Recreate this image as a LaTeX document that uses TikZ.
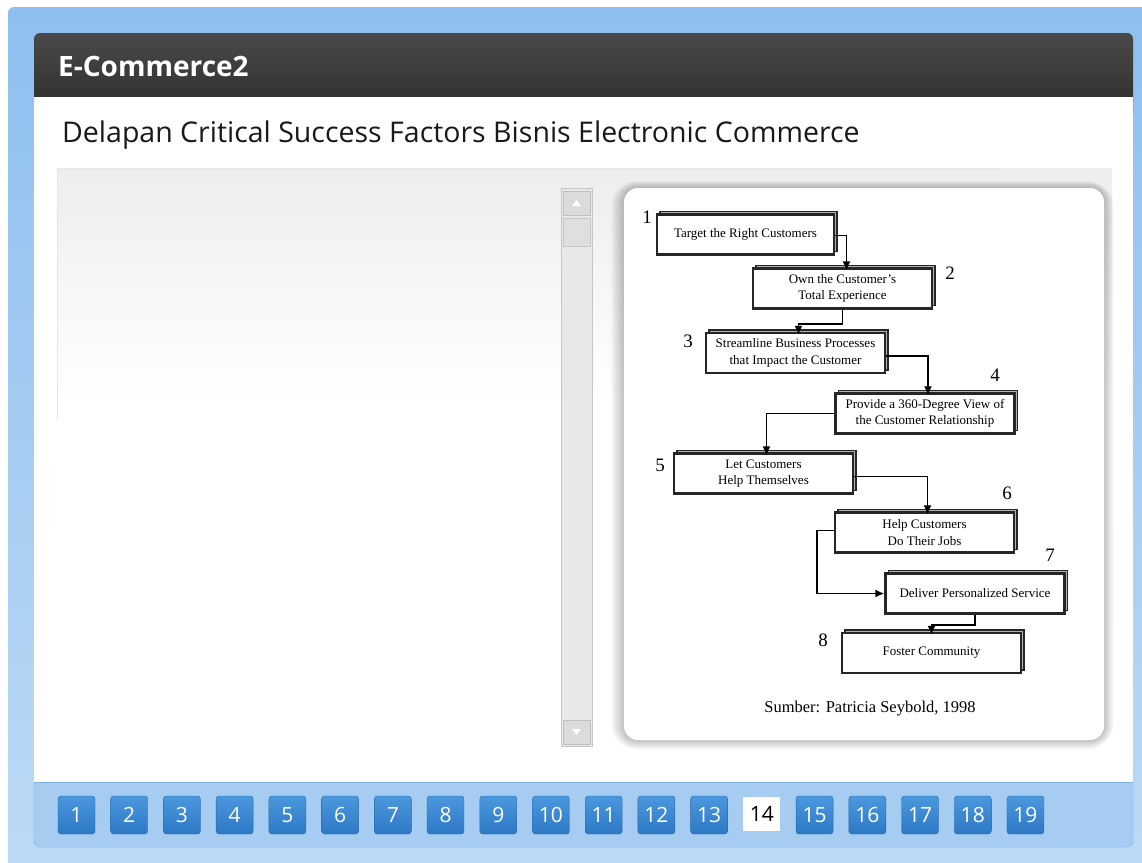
\documentclass[tikz,border=0pt]{standalone}
\usepackage{fontspec}
\setmainfont{Liberation Serif}
\newfontfamily\uifont{Open Sans}
\usetikzlibrary{shadows,arrows.meta}

\definecolor{pagetop}{HTML}{8EBFEF}
\definecolor{pagelow}{HTML}{BCDAF6}
\definecolor{headtop}{HTML}{4A4A4A}
\definecolor{headlow}{HTML}{2A2A2A}
\definecolor{navfill}{HTML}{A6CCF2}
\definecolor{navline}{HTML}{7FB0E2}
\definecolor{btntop}{HTML}{4C98DE}
\definecolor{btnlow}{HTML}{2D78C4}
\definecolor{btnedge}{HTML}{2A68A8}

\tikzset{
  stepbox/.style={draw=black!85, line width=2.2pt, fill=white, inner sep=0pt,
    minimum width=179pt, minimum height=40pt, align=center,
    font=\fontsize{13}{16.5}\selectfont,
    copy shadow={shadow xshift=3pt, shadow yshift=3pt, fill=gray!60,
      draw=black!85, line width=1.6pt}},
  stepnum/.style={font=\fontsize{19}{19}\selectfont, inner sep=0pt},
  link/.style={line width=1.8pt, -{Latex[length=9pt,width=8pt]}},
  navbtn/.style={rounded corners=3pt, draw=btnedge, top color=btntop,
    bottom color=btnlow, text=white, minimum width=37pt, minimum height=38pt,
    inner sep=0pt, font=\uifont\fontsize{21}{21}\selectfont},
  navcur/.style={fill=white, text=black, minimum width=37pt,
    minimum height=34pt, inner sep=0pt, font=\uifont\fontsize{21}{21}\selectfont},
}

\begin{document}
\begin{tikzpicture}[x=1pt, y=-1pt]
\useasboundingbox (0,0) rectangle (1142,862);
\fill[white] (0,0) rectangle (1142,862);
% blue window backdrop
\shade[top color=pagetop, bottom color=pagelow, rounded corners=6pt]
  (8,7) rectangle (1160,880);

% header bar, nav bar, white body
\shade[top color=headtop, bottom color=headlow, rounded corners=6pt]
  (34,33) rectangle (1133,120);
\fill[navfill, rounded corners=6pt] (34,760) rectangle (1133,847);
\draw[navline, rounded corners=6pt] (34,782) -- (34,847) -- (1133,847) -- (1133,782);
\fill[white] (34,97) rectangle (1133,782);
\draw[navline, line width=1pt] (34,782) -- (1133,782);

\node[anchor=west, text=white, inner sep=0pt,
  font=\uifont\bfseries\fontsize{28}{28}\selectfont] (apptitle) at (58,66) {E-Commerce2};
\node[anchor=base west, text=black!90, inner sep=0pt,
  font=\uifont\fontsize{28.5}{28.5}\selectfont] (slidetitle) at (62,142)
  {Delapan Critical Success Factors Bisnis Electronic Commerce};

% content pane with soft grey top
\shade[top color=gray!14, bottom color=white] (57,168) rectangle (1112,400);
\draw[gray!20] (57,420) -- (57,168) -- (1000,168);

% scroll bar
\draw[gray!45, fill=gray!18] (561,188) rectangle (592,746);
\draw[gray!50, fill=gray!28] (563,191) rectangle (590,215);
\draw[gray!45, fill=gray!25] (563,218) rectangle (590,246);
\draw[gray!50, fill=gray!28] (563,720) rectangle (590,744);
\fill[white] (572,206) -- (581,206) -- (576.5,200) -- cycle;
\fill[white] (572,729) -- (581,729) -- (576.5,735) -- cycle;

% card holding the chart, soft shadow first
\foreach \k in {1,...,12}
  \fill[black, opacity=0.018, rounded corners={14pt+\k pt}]
    ({624-\k*1.1},{188-\k*0.6}) rectangle ({1104+\k*0.8},{740+\k*0.8});
\fill[white, rounded corners=14pt] (624,188) rectangle (1104,740);

% the eight steps
\node[stepbox, minimum width=177pt] (t1) at (745.5,234.5) {Target the Right Customers};
\node[stepbox] (t2) at (842.5,288.5) {Own the Customer's\\Total Experience};
\node[stepbox] (t3) at (795.5,353) {Streamline Business Processes\\that Impact the Customer};
\node[stepbox] (t4) at (925,413.5) {Provide a 360-Degree View of\\the Customer Relationship};
\node[stepbox] (t5) at (763.5,473.5) {Let Customers\\Help Themselves};
\node[stepbox] (t6) at (924.5,532.5) {Help Customers\\Do Their Jobs};
\node[stepbox] (t7) at (975,593.5) {Deliver Personalized Service};
\node[stepbox] (t8) at (931.5,653) {Foster Community};

\node[stepnum] (n1) at (647,217) {1};
\node[stepnum] (n2) at (950,273) {2};
\node[stepnum] (n3) at (688,341) {3};
\node[stepnum] (n4) at (995,375) {4};
\node[stepnum] (n5) at (660,465) {5};
\node[stepnum] (n6) at (1007,493) {6};
\node[stepnum] (n7) at (1050,555) {7};
\node[stepnum] (n8) at (823,640) {8};

\draw[link] ([yshift=-1]t1.east) -| ([xshift=4,yshift=-3]t2.north);
\draw[link] (t2.south) -- ++(0,14) -| ([xshift=3,yshift=-3]t3.north);
\draw[link] ([yshift=-3]t3.east) -| ([xshift=3,yshift=-3]t4.north);
\draw[link] (t4.west) -| ([xshift=3,yshift=-3]t5.north);
\draw[link] ([yshift=-3]t5.east) -| ([xshift=3,yshift=-3]t6.north);
\draw[link] ([yshift=2]t6.west) -- ++(-17,0) |- (t7.west);
\draw[link] (t7.south) -- ++(0,10) -| ([yshift=-3]t8.north);

\node[anchor=base, font=\fontsize{16.5}{16.5}\selectfont] (source) at (870,712)
  {Sumber: Patricia Seybold, 1998};

% slide buttons
\foreach \i in {1,...,19} {
  \ifnum\i=14
    \node[navcur] (btn\i) at ({76.5+(\i-1)*52.72},814) {\i};
  \else
    \node[navbtn] (btn\i) at ({76.5+(\i-1)*52.72},815) {\i};
  \fi
}
\end{tikzpicture}
\end{document}
